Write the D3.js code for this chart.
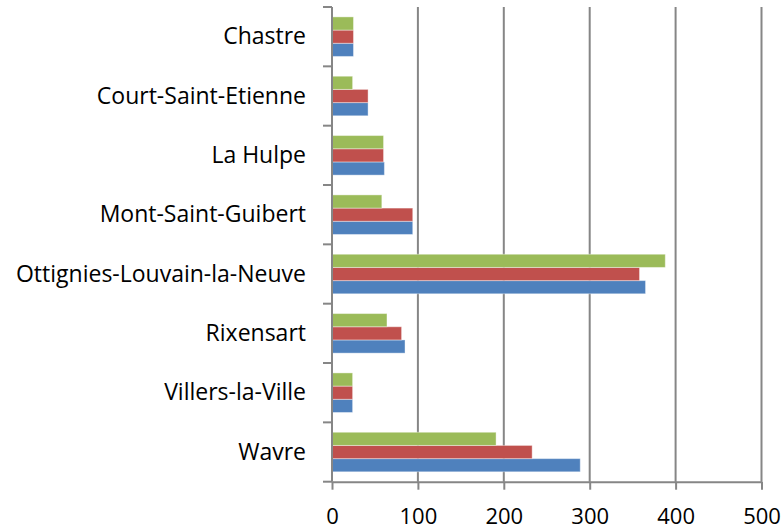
<!DOCTYPE html>
<html>
<head>
<meta charset="utf-8">
<script src="https://cdn.jsdelivr.net/npm/d3@7"></script>
<style>
  body { margin: 0; background: #fff; }
  svg text { font-family: "Open Sans", Lato, sans-serif; fill: #000; font-variant-ligatures: none; }
</style>
</head>
<body>
<script>
var outerWidth = 782;
var outerHeight = 531;
var margin = {left: 332, top: 7, right: 20, bottom: 49};

// categories, top to bottom
var communes = ["Chastre", "Court-Saint-Etienne", "La Hulpe", "Mont-Saint-Guibert",
  "Ottignies-Louvain-la-Neuve", "Rixensart", "Villers-la-Ville", "Wavre"];

// three series (blue, red, green)
var serieBlue  = [25, 42, 61, 94, 365, 85, 24, 289];
var serieRed   = [25, 42, 60, 94, 358, 81, 24, 233];
var serieGreen = [25, 24, 60, 58, 388, 64, 24, 191];

var xTicks = [0, 100, 200, 300, 400, 500];
var colors = ["#4F81BD", "#C0504D", "#9BBB59"];

var series = [serieBlue, serieRed, serieGreen];
var plotH = 474.7;

var svg = d3.select("body").append("svg")
    .attr("width", outerWidth)
    .attr("height", outerHeight);

var g = svg.append("g")
    .attr("transform", "translate(" + margin.left + "," + margin.top + ")");

var x = d3.scaleLinear()
    .domain([0, 500])
    .range([0, 429.5]);

// gap width 50% of the bar group
var y = d3.scaleBand()
    .domain(communes)
    .range([0, plotH])
    .paddingInner(1 / 3)
    .paddingOuter(1 / 6);

// bars within a band: blue at the bottom, green at the top
var inner = d3.scaleBand()
    .domain([2, 1, 0])
    .range([0, y.bandwidth()]);

// gridlines
g.selectAll(".grid")
    .data(xTicks.slice(1))
    .enter().append("line")
    .attr("class", "grid")
    .attr("x1", function(d) { return x(d); })
    .attr("x2", function(d) { return x(d); })
    .attr("y1", 0)
    .attr("y2", plotH)
    .attr("stroke", "#868686")
    .attr("stroke-width", 2);

// bars
series.forEach(function(vals, si) {
  g.selectAll(".bar" + si)
    .data(vals)
    .enter().append("rect")
    .attr("class", "bar" + si)
    .attr("x", x(0))
    .attr("y", function(d, i) { return y(communes[i]) + inner(si); })
    .attr("width", function(d) { return x(d) - x(0); })
    .attr("height", inner.bandwidth())
    .attr("fill", colors[si])
    .attr("stroke", "rgba(255,255,255,0.4)")
    .attr("stroke-width", 1);
});

// x axis
var xAxis = g.append("g")
    .attr("transform", "translate(0," + plotH + ")")
    .call(d3.axisBottom(x).tickValues(xTicks).tickSize(8).tickPadding(20).tickSizeOuter(0));
xAxis.select(".domain").attr("stroke", "#868686").attr("stroke-width", 2);
xAxis.selectAll(".tick line").attr("stroke", "#868686").attr("stroke-width", 2);
xAxis.selectAll("text")
    .style("font-size", "22px")
    .style("font-family", "'Open Sans', sans-serif")
    .attr("dy", null)
    .attr("y", 42)
    .attr("fill", "#000");

// y axis: ticks at category boundaries
var bounds = d3.range(communes.length + 1).map(function(i) { return i * plotH / communes.length; });
g.append("line")
    .attr("x1", 0).attr("x2", 0)
    .attr("y1", 0).attr("y2", plotH)
    .attr("stroke", "#868686").attr("stroke-width", 2);
g.selectAll(".ytick")
    .data(bounds)
    .enter().append("line")
    .attr("class", "ytick")
    .attr("x1", -9).attr("x2", 0)
    .attr("y1", function(d) { return d; })
    .attr("y2", function(d) { return d; })
    .attr("stroke", "#868686").attr("stroke-width", 2);

g.selectAll(".ylab")
    .data(communes)
    .enter().append("text")
    .attr("class", "ylab")
    .attr("x", -26)
    .attr("y", function(d) { return y(d) + y.bandwidth() / 2 + 7.5; })
    .attr("text-anchor", "end")
    .style("font-size", "23px")
    .text(function(d) { return d; });
</script>
</body>
</html>
